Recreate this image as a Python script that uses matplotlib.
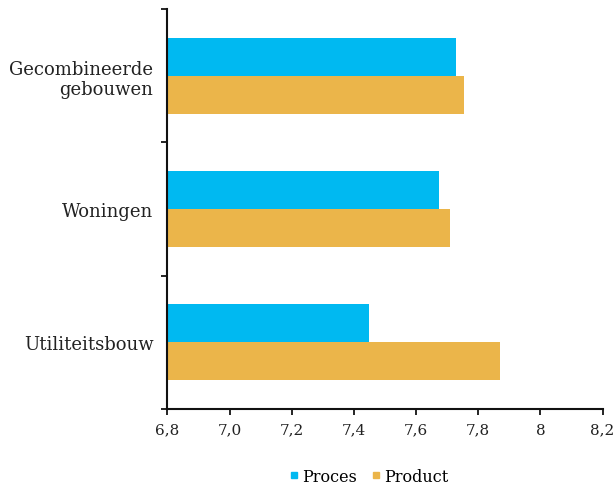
import numpy as np
import matplotlib.pyplot as plt
from matplotlib.lines import Line2D

# categorieën (van onder naar boven) en scores
categories = ["Utiliteitsbouw", "Woningen", "Gecombineerde\ngebouwen"]
proces = [7.45, 7.675, 7.73]
product = [7.87, 7.71, 7.755]
xticks = [6.8, 7.0, 7.2, 7.4, 7.6, 7.8, 8.0, 8.2]
xticklabels = ["6,8", "7,0", "7,2", "7,4", "7,6", "7,8", "8", "8,2"]

col_proces = "#00B9F1"
col_product = "#EBB54A"

plt.rcParams['font.family'] = ['DejaVu Serif']

fig = plt.figure(figsize=(6.13, 4.85), dpi=100)
ax = fig.add_axes([0.273, 0.155, 0.71, 0.824])

y = np.arange(len(categories))
h = 0.286
ax.barh(y + h / 2, proces, height=h, left=0, color=col_proces)
ax.barh(y - h / 2, product, height=h, left=0, color=col_product)

ax.set_xlim(6.8, 8.2)
ax.set_ylim(-0.5, len(categories) - 0.5)
ax.set_xticks(xticks)
ax.set_xticklabels(xticklabels, fontsize=11, color="#222222")

# y-ticks op de grenzen, labels in het midden
ax.set_yticks(np.arange(-0.5, len(categories), 1.0))
ax.set_yticklabels([])
ax.set_yticks(y, minor=True)
ax.set_yticklabels(categories, minor=True, fontsize=13, color="#222222",
                   ha="right", linespacing=1.15)
ax.tick_params(axis="y", which="minor", length=0, pad=10)
ax.tick_params(axis="y", which="major", length=4, width=1.2, direction="out")
ax.tick_params(axis="x", length=4, width=1.2, direction="out", pad=6)

for s in ["top", "right"]:
    ax.spines[s].set_visible(False)
for s in ["left", "bottom"]:
    ax.spines[s].set_linewidth(1.5)
    ax.spines[s].set_color("#111111")

handles = [Line2D([], [], marker="s", linestyle="none", color=col_proces, markersize=5),
           Line2D([], [], marker="s", linestyle="none", color=col_product, markersize=5)]
fig.legend(handles, ["Proces", "Product"], loc="center", bbox_to_anchor=(0.6, 0.016),
           ncol=2, frameon=False, fontsize=11.5, handletextpad=0.1, columnspacing=0.8,
           handlelength=0.8)

fig.savefig("out.png", dpi=100)
